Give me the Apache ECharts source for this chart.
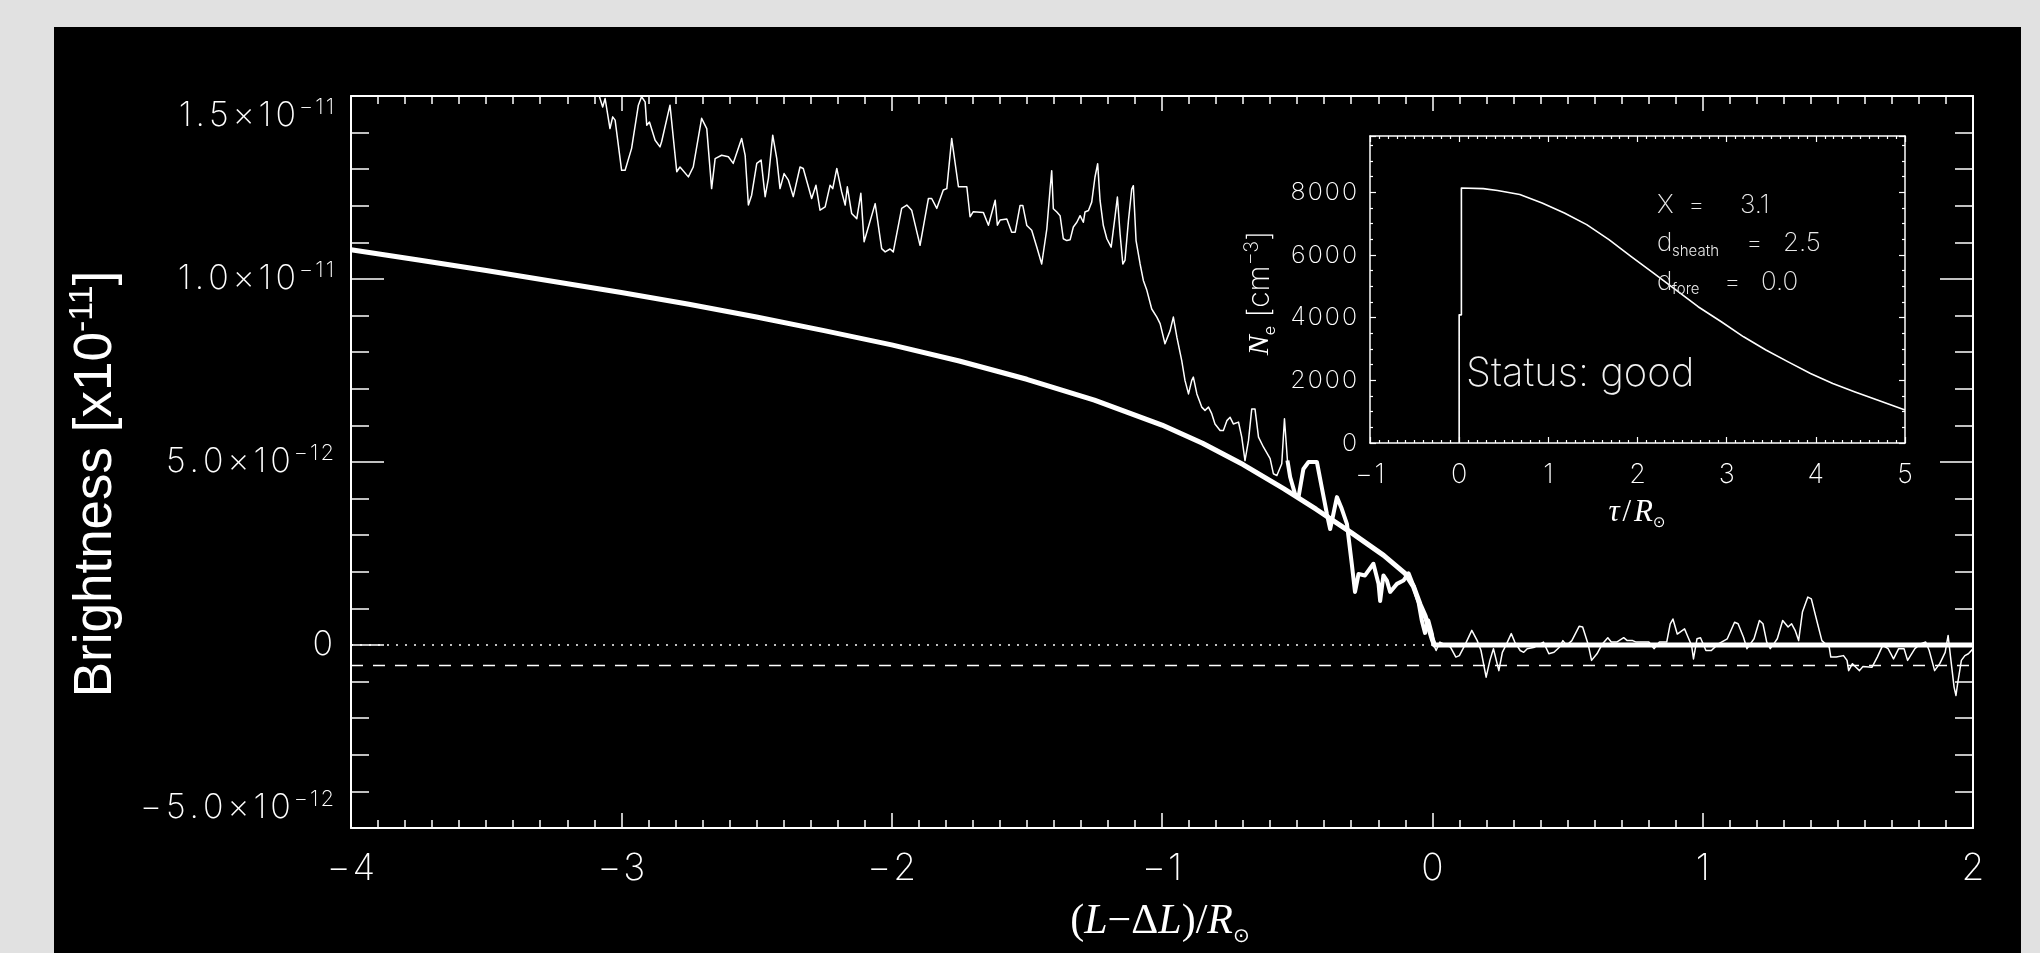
<!DOCTYPE html>
<html>
<head>
<meta charset="utf-8">
<title>Brightness profile and sheath density</title>
<script src="https://cdn.jsdelivr.net/npm/echarts@6/dist/echarts.min.js"></script>
<style>
  html, body { margin: 0; padding: 0; width: 2040px; height: 953px; background: #e1e1e1; overflow: hidden; }
  #panel { position: absolute; left: 54px; top: 27px; width: 1967px; height: 926px; background: #000; }
  #chart { position: absolute; left: 0; top: 0; width: 2040px; height: 953px; }
</style>
</head>
<body>
<div id="panel"></div>
<div id="chart"></div>
<script>
// ---------------------------------------------------------------------------
// Brightness values are stored in units of 1e-12; the axis labels restore the
// physical scale.
// ---------------------------------------------------------------------------

// Observed brightness, outer part (x = (L-ΔL)/R_sun, y in 1e-12)
const observedOuter = [
  [-4.00, 19.0], [-3.70, 18.1], [-3.45, 17.0], [-3.25, 16.3], [-3.12, 15.9],
  [-3.069, 14.70], [-3.060, 14.93], [-3.042, 14.11], [-3.032, 14.43], [-3.023, 14.34],
  [-2.999, 12.97], [-2.986, 12.97], [-2.962, 13.57], [-2.937, 14.75], [-2.925, 14.98],
  [-2.912, 14.84], [-2.906, 14.20], [-2.896, 14.29], [-2.875, 13.79], [-2.857, 13.61],
  [-2.851, 13.75], [-2.820, 14.75], [-2.795, 12.93], [-2.783, 13.06], [-2.752, 12.79],
  [-2.734, 13.06], [-2.703, 14.39], [-2.684, 14.11], [-2.666, 12.47], [-2.653, 13.29],
  [-2.629, 13.38], [-2.604, 13.34], [-2.586, 13.16], [-2.555, 13.84], [-2.542, 13.38],
  [-2.530, 12.02], [-2.518, 12.29], [-2.499, 13.16], [-2.483, 13.25], [-2.468, 12.25],
  [-2.456, 12.75], [-2.440, 13.93], [-2.425, 13.29], [-2.413, 12.47], [-2.398, 12.88],
  [-2.382, 12.70], [-2.364, 12.25], [-2.339, 13.06], [-2.327, 13.02], [-2.296, 12.20],
  [-2.280, 12.56], [-2.265, 11.88], [-2.246, 11.97], [-2.228, 12.56], [-2.218, 12.47],
  [-2.203, 13.02], [-2.185, 12.38], [-2.172, 12.02], [-2.164, 12.52], [-2.148, 11.79],
  [-2.129, 11.65], [-2.114, 12.34], [-2.102, 11.02], [-2.061, 12.06], [-2.037, 10.83],
  [-2.024, 10.74], [-2.006, 10.82], [-1.994, 10.74], [-1.963, 11.93], [-1.944, 12.02],
  [-1.926, 11.88], [-1.895, 10.92], [-1.864, 12.20], [-1.852, 12.20], [-1.833, 11.93],
  [-1.809, 12.43], [-1.796, 12.47], [-1.778, 13.84], [-1.753, 12.52], [-1.722, 12.52],
  [-1.710, 11.70], [-1.698, 11.84], [-1.661, 11.82], [-1.642, 11.47], [-1.617, 12.15],
  [-1.609, 11.47], [-1.599, 11.61], [-1.574, 11.64], [-1.556, 11.28], [-1.543, 11.28],
  [-1.525, 12.01], [-1.515, 12.01], [-1.500, 11.46], [-1.482, 11.33], [-1.463, 10.87],
  [-1.457, 10.92], [-1.445, 10.41], [-1.426, 11.37], [-1.414, 12.46], [-1.408, 12.96],
  [-1.402, 11.92], [-1.389, 11.83], [-1.377, 11.73], [-1.365, 11.10], [-1.352, 11.05],
  [-1.340, 11.07], [-1.328, 11.42], [-1.315, 11.55], [-1.303, 11.73], [-1.291, 11.55],
  [-1.285, 11.83], [-1.272, 11.87], [-1.260, 12.10], [-1.248, 12.78], [-1.238, 13.15],
  [-1.229, 12.14], [-1.217, 11.46], [-1.204, 11.10], [-1.188, 10.87], [-1.174, 11.69],
  [-1.165, 12.24], [-1.155, 11.23], [-1.145, 10.41], [-1.137, 10.51], [-1.124, 11.60],
  [-1.112, 12.46], [-1.106, 12.55], [-1.096, 11.05], [-1.081, 10.41], [-1.069, 9.96],
  [-1.056, 9.69], [-1.038, 9.18], [-1.019, 8.96], [-1.007, 8.78], [-0.989, 8.23],
  [-0.970, 8.59], [-0.958, 8.96], [-0.945, 8.41], [-0.927, 7.77], [-0.915, 7.23],
  [-0.902, 6.86], [-0.890, 7.23], [-0.884, 7.32], [-0.871, 6.86], [-0.853, 6.50],
  [-0.841, 6.41], [-0.828, 6.50], [-0.816, 6.32], [-0.804, 6.04], [-0.785, 5.86],
  [-0.773, 5.86], [-0.760, 6.13], [-0.748, 6.22], [-0.736, 6.04], [-0.717, 6.09],
  [-0.705, 5.68], [-0.693, 5.04], [-0.680, 5.59], [-0.668, 6.45], [-0.656, 6.45],
  [-0.643, 5.68], [-0.625, 5.41], [-0.600, 5.09], [-0.588, 4.68], [-0.575, 4.63],
  [-0.557, 4.95], [-0.547, 6.18]
];

// Observed brightness inside the fitted range (also drawn heavy)
const observedFit = [
  [-0.536, 5.04], [-0.526, 4.59], [-0.508, 4.13], [-0.495, 4.04], [-0.477, 4.81],
  [-0.458, 5.00], [-0.427, 5.00], [-0.409, 4.31], [-0.390, 3.58], [-0.378, 3.17],
  [-0.366, 3.58], [-0.353, 4.04], [-0.335, 3.72], [-0.316, 3.31], [-0.298, 2.22],
  [-0.286, 1.45], [-0.273, 1.94], [-0.249, 1.90], [-0.218, 2.22], [-0.199, 1.67],
  [-0.193, 1.20], [-0.181, 1.90], [-0.168, 1.76], [-0.156, 1.45], [-0.131, 1.67],
  [-0.107, 1.76], [-0.088, 1.96], [-0.070, 1.62], [-0.051, 1.17], [-0.039, 0.67],
  [-0.027, 0.33], [-0.015, 0.67], [-0.002, 0.31], [0.004, 0.02]
];

// Observed brightness beyond the front
const observedTail = [
  [0.014, -0.15], [0.028, 0.08], [0.067, -0.06], [0.087, -0.33], [0.100, -0.29],
  [0.120, -0.01], [0.146, 0.40], [0.166, 0.12], [0.180, -0.15], [0.199, -0.88],
  [0.213, -0.42], [0.226, -0.10], [0.246, -0.70], [0.259, -0.20], [0.272, -0.01],
  [0.292, 0.31], [0.305, 0.08], [0.325, -0.15], [0.338, -0.20], [0.351, -0.10],
  [0.378, -0.06], [0.411, 0.08], [0.431, -0.24], [0.450, -0.20], [0.470, -0.06],
  [0.483, 0.12], [0.497, -0.01], [0.516, 0.12], [0.543, 0.51], [0.556, 0.49],
  [0.576, 0.03], [0.589, -0.42], [0.609, -0.24], [0.629, 0.03], [0.649, 0.20],
  [0.662, 0.08], [0.682, 0.08], [0.708, 0.20], [0.721, 0.12], [0.741, 0.12],
  [0.754, 0.08], [0.774, 0.08], [0.801, 0.08], [0.820, -0.10], [0.840, 0.08],
  [0.867, 0.08], [0.880, 0.58], [0.890, 0.71], [0.906, 0.30], [0.933, 0.44],
  [0.946, 0.21], [0.959, -0.01], [0.966, -0.38], [0.979, 0.17], [0.992, 0.20],
  [1.012, -0.15], [1.032, -0.15], [1.058, 0.03], [1.091, 0.17], [1.118, 0.62],
  [1.131, 0.58], [1.151, 0.21], [1.164, -0.10], [1.170, -0.15], [1.190, 0.17],
  [1.210, 0.67], [1.223, 0.58], [1.237, 0.08], [1.250, -0.10], [1.263, 0.03],
  [1.276, 0.17], [1.296, 0.67], [1.316, 0.49], [1.329, 0.58], [1.342, 0.40],
  [1.355, 0.12], [1.369, 0.90], [1.389, 1.31], [1.402, 1.26], [1.422, 0.67],
  [1.441, 0.12], [1.468, -0.06], [1.474, -0.33], [1.494, -0.33], [1.521, -0.29],
  [1.534, -0.42], [1.540, -0.70], [1.554, -0.51], [1.567, -0.61], [1.580, -0.70],
  [1.593, -0.59], [1.626, -0.61], [1.646, -0.33], [1.666, -0.01], [1.686, -0.10],
  [1.706, -0.38], [1.725, -0.10], [1.745, -0.10], [1.758, -0.42], [1.785, -0.10],
  [1.805, 0.03], [1.825, 0.08], [1.838, -0.15], [1.858, -0.70], [1.877, -0.51],
  [1.897, -0.20], [1.908, 0.26], [1.917, -0.33], [1.930, -1.15], [1.937, -1.38],
  [1.943, -1.06], [1.957, -0.42], [1.970, -0.29], [1.983, -0.24], [2.000, -0.10]
];

// Model brightness (1e-12)
const modelX = [-4.0, -3.75, -3.5, -3.25, -3.0, -2.75, -2.5, -2.25, -2.0, -1.75, -1.5, -1.25, -1.0, -0.85, -0.7, -0.55, -0.43, -0.30, -0.18, -0.10, -0.07, -0.045, -0.027, 0.0, 0.008, 2.0];
const modelY = [10.80, 10.52, 10.23, 9.93, 9.63, 9.31, 8.96, 8.59, 8.20, 7.76, 7.26, 6.69, 6.01, 5.51, 4.93, 4.27, 3.71, 3.07, 2.45, 1.95, 1.60, 1.10, 0.80, 0.15, 0.0, 0.0];

// Reference levels (1e-12)
const zeroLevel = 0;
const backgroundLevel = -0.56;

// Inset: electron density profile
const tau = [0, 0, 0.025, 0.025, 0.27, 0.43, 0.68, 0.93, 1.18, 1.43, 1.68, 1.93, 2.18, 2.43, 2.68, 2.94, 3.19, 3.44, 3.69, 3.94, 4.19, 4.44, 4.69, 5.0];
const density = [0, 4090, 4090, 8140, 8120, 8060, 7930, 7660, 7340, 6970, 6490, 5950, 5420, 4890, 4350, 3870, 3390, 2970, 2590, 2220, 1900, 1630, 1370, 1050];

// Axis settings
const mainX = { min: -4, max: 2, step: 1 };
const mainY = { min: -5, max: 15, step: 5 };   // 1e-12 units
const insetX = { min: -1, max: 5, step: 1 };
const insetY = { min: 0, max: 9800, step: 2000 };

// Fit annotation lines: name, subscript, value, and the widths of the
// name/subscript cell and the "=" cell
const fitParams = [
  { name: 'X', sub: '', value: '3.1', nameW: 31, eqW: 51 },
  { name: 'd', sub: 'sheath', value: '2.5', nameW: 89, eqW: 36 },
  { name: 'd', sub: 'fore', value: '0.0', nameW: 67, eqW: 36 }
];
const statusText = 'Status: good';

// ---------------------------------------------------------------------------
const THIN = "'Inter', 'DejaVu Sans', sans-serif";
const SERIF = "'Liberation Serif', 'DejaVu Serif', serif";
const WHITE = '#ffffff';
const MINUS = '\u2212';

function signed(v) {
  return (v < 0 ? MINUS : '') + Math.abs(v);
}

// Wrap every character in its own rich token so the glyphs get a little air
function spaced(str, style) {
  return Array.from(str).map(c => '{' + style + '|' + c + '}').join('');
}

// Value in 1e-12 units -> "m.m×10^e" rich label
function sciLabel(v) {
  if (Math.abs(v) < 1e-9) return spaced('0', 'm');
  const real = v * 1e-12;
  const e = Math.floor(Math.log10(Math.abs(real)) + 1e-9);
  const m = real / Math.pow(10, e);
  return spaced((m < 0 ? MINUS : '') + Math.abs(m).toFixed(1) + '\u00d710', 'm') +
         spaced(MINUS + Math.abs(e), 's');
}

const toPairs = (xs, ys) => xs.map((x, i) => [x, ys[i]]);
const observedAll = observedOuter.concat(observedFit, observedTail);

const chart = echarts.init(document.getElementById('chart'), null, { renderer: 'canvas' });

const axisLineStyle = { color: WHITE, width: 2 };
const tickStyle = { color: WHITE, width: 1.5 };

function mainXAxis(position, showLabel) {
  return {
    type: 'value', gridIndex: 0, position: position,
    min: mainX.min, max: mainX.max, interval: mainX.step,
    axisLine: { show: true, onZero: false, lineStyle: axisLineStyle },
    axisTick: { show: true, inside: true, length: 15, lineStyle: tickStyle },
    minorTick: { show: true, splitNumber: 10, length: 8, lineStyle: tickStyle },
    splitLine: { show: false }, minorSplitLine: { show: false },
    axisLabel: {
      show: showLabel, margin: 22,
      formatter: v => spaced(signed(v), 'd'),
      rich: { d: { color: WHITE, fontFamily: THIN, fontWeight: 200, fontSize: 37, padding: [0, 1] } }
    }
  };
}

function mainYAxis(position, showLabel) {
  return {
    type: 'value', gridIndex: 0, position: position,
    min: mainY.min, max: mainY.max, interval: mainY.step,
    axisLine: { show: true, onZero: false, lineStyle: axisLineStyle },
    axisTick: { show: true, inside: true, length: 33, lineStyle: tickStyle },
    minorTick: { show: true, splitNumber: 5, length: 18, lineStyle: tickStyle },
    splitLine: { show: false }, minorSplitLine: { show: false },
    axisLabel: {
      show: showLabel, margin: 16, formatter: sciLabel,
      verticalAlignMaxLabel: 'top', verticalAlignMinLabel: 'bottom',
      rich: {
        m: { color: WHITE, fontFamily: THIN, fontWeight: 200, fontSize: 34, lineHeight: 40, padding: [0, 2] },
        s: { color: WHITE, fontFamily: THIN, fontWeight: 200, fontSize: 22, lineHeight: 22, verticalAlign: 'top', padding: [0, 1] }
      }
    }
  };
}

function insetXAxis(position, showLabel) {
  return {
    type: 'value', gridIndex: 1, position: position,
    min: insetX.min, max: insetX.max, interval: insetX.step,
    axisLine: { show: true, onZero: false, lineStyle: { color: WHITE, width: 1.5 } },
    axisTick: { show: true, inside: true, length: 6, lineStyle: { color: WHITE, width: 1.2 } },
    minorTick: { show: true, splitNumber: 10, length: 3, lineStyle: { color: WHITE, width: 1.2 } },
    splitLine: { show: false },
    axisLabel: {
      show: showLabel, margin: 18,
      formatter: v => spaced(signed(v), 'd'),
      rich: { d: { color: WHITE, fontFamily: THIN, fontWeight: 200, fontSize: 27, padding: [0, 1] } }
    }
  };
}

function insetYAxis(position, showLabel) {
  return {
    type: 'value', gridIndex: 1, position: position,
    min: insetY.min, max: insetY.max, interval: insetY.step,
    axisLine: { show: true, onZero: false, lineStyle: { color: WHITE, width: 1.5 } },
    axisTick: { show: true, inside: true, length: 6, lineStyle: { color: WHITE, width: 1.2 } },
    minorTick: { show: true, splitNumber: 4, length: 3, lineStyle: { color: WHITE, width: 1.2 } },
    splitLine: { show: false },
    axisLabel: {
      show: showLabel, margin: 12, showMaxLabel: false,
      formatter: v => spaced(String(v), 'd'),
      rich: { d: { color: WHITE, fontFamily: THIN, fontWeight: 200, fontSize: 25, padding: [0, 1] } }
    }
  };
}

function lineSeries(data, xi, yi, width, type, z) {
  return {
    type: 'line', xAxisIndex: xi, yAxisIndex: yi, data: data,
    showSymbol: false, symbol: 'none', clip: true, silent: true, z: z,
    lineStyle: { color: WHITE, width: width, type: type || 'solid', cap: 'butt', join: 'round' }
  };
}

const paramGraphics = fitParams.map((p, i) => ({
  type: 'text', x: 1657, y: 205 + i * 38.5, z: 10,
  style: {
    text: '{n' + i + '|' + p.name + '}' + (p.sub ? '{sub|' + p.sub + '}' : '') +
          '{eq' + i + '|=}{p|' + p.value + '}',
    textAlign: 'left', textVerticalAlign: 'middle', align: 'left', verticalAlign: 'middle',
    rich: {
      ['n' + i]: { fill: '#e8e8e8', fontFamily: THIN, fontWeight: 200, fontSize: 26, lineHeight: 30,
                   width: p.sub ? 15 : p.nameW },
      sub: { fill: '#e8e8e8', fontFamily: THIN, fontWeight: 300, fontSize: 15, lineHeight: 14,
             verticalAlign: 'bottom', width: p.nameW - 15 },
      ['eq' + i]: { fill: '#e8e8e8', fontFamily: THIN, fontWeight: 200, fontSize: 26, lineHeight: 30, width: p.eqW },
      p: { fill: '#e8e8e8', fontFamily: THIN, fontWeight: 200, fontSize: 26, lineHeight: 30, padding: [0, 1] }
    }
  }
}));

const option = {
  backgroundColor: 'transparent',
  animation: false,
  grid: [
    { left: 351, top: 96, width: 1622, height: 732, show: false },
    { left: 1370, top: 136, width: 535, height: 307, show: false }
  ],
  xAxis: [
    mainXAxis('bottom', true), mainXAxis('top', false),
    insetXAxis('bottom', true), insetXAxis('top', false)
  ],
  yAxis: [
    mainYAxis('left', true), mainYAxis('right', false),
    insetYAxis('left', true), insetYAxis('right', false)
  ],
  series: [
    lineSeries([[mainX.min, zeroLevel], [mainX.max, zeroLevel]], 0, 0, 1.6, [2, 7], 2),
    lineSeries([[mainX.min, backgroundLevel], [mainX.max, backgroundLevel]], 0, 0, 1.6, [12, 10], 2),
    lineSeries(observedAll, 0, 0, 1.5, 'solid', 3),
    lineSeries(observedFit, 0, 0, 4, 'solid', 4),
    lineSeries(toPairs(modelX, modelY), 0, 0, 5, 'solid', 5),
    lineSeries(toPairs(tau, density), 2, 2, 1.6, 'solid', 3)
  ],
  graphic: [
    {
      type: 'text', x: 96, y: 484, rotation: Math.PI / 2, z: 10,
      style: {
        text: '{a|Brightness [x10}{b|-11}{a|]}',
        textAlign: 'center', textVerticalAlign: 'middle', align: 'center', verticalAlign: 'middle',
        rich: {
          a: { fill: WHITE, fontFamily: "'Liberation Sans', Arial, sans-serif", fontSize: 53, lineHeight: 60 },
          b: { fill: WHITE, fontFamily: "'Liberation Sans', Arial, sans-serif", fontSize: 34, lineHeight: 40, verticalAlign: 'top' }
        }
      }
    },
    {
      type: 'text', x: 1160, y: 922, z: 10,
      style: {
        text: '{p|(}{i|L}{p|' + MINUS + '\u0394}{i|L}{p|)/}{i|R}{sub|\u2299}',
        textAlign: 'center', textVerticalAlign: 'middle', align: 'center', verticalAlign: 'middle',
        rich: {
          p: { fill: WHITE, fontFamily: SERIF, fontSize: 42, lineHeight: 50 },
          i: { fill: WHITE, fontFamily: SERIF, fontStyle: 'italic', fontSize: 42, lineHeight: 50 },
          sub: { fill: WHITE, fontFamily: "'DejaVu Sans', sans-serif", fontSize: 20, lineHeight: 34, verticalAlign: 'bottom' }
        }
      }
    },
    {
      type: 'text', x: 1637, y: 513, z: 10,
      style: {
        text: '{i|\u03c4}{p|/}{i|R}{sub|\u2299}',
        textAlign: 'center', textVerticalAlign: 'middle', align: 'center', verticalAlign: 'middle',
        rich: {
          p: { fill: WHITE, fontFamily: SERIF, fontSize: 31, lineHeight: 36, padding: [0, 3] },
          i: { fill: WHITE, fontFamily: SERIF, fontStyle: 'italic', fontSize: 31, lineHeight: 36 },
          sub: { fill: WHITE, fontFamily: "'DejaVu Sans', sans-serif", fontSize: 15, lineHeight: 24, verticalAlign: 'bottom' }
        }
      }
    },
    {
      type: 'text', x: 1260, y: 293, rotation: Math.PI / 2, z: 10,
      style: {
        text: '{i|N}{sub|e}{p| [cm}{sup|' + MINUS + '3}{p|]}',
        textAlign: 'center', textVerticalAlign: 'middle', align: 'center', verticalAlign: 'middle',
        rich: {
          p: { fill: WHITE, fontFamily: THIN, fontWeight: 200, fontSize: 30, lineHeight: 36 },
          i: { fill: WHITE, fontFamily: SERIF, fontStyle: 'italic', fontSize: 30, lineHeight: 36 },
          sub: { fill: WHITE, fontFamily: THIN, fontWeight: 300, fontSize: 16, lineHeight: 24, verticalAlign: 'bottom' },
          sup: { fill: WHITE, fontFamily: THIN, fontWeight: 200, fontSize: 20, lineHeight: 22, verticalAlign: 'top' }
        }
      }
    },
    {
      type: 'text', x: 1466, y: 374, z: 10,
      style: {
        text: statusText, fill: '#f0f0f0', fontFamily: THIN, fontWeight: 200, fontSize: 40,
        textAlign: 'left', textVerticalAlign: 'middle', align: 'left', verticalAlign: 'middle'
      }
    }
  ].concat(paramGraphics)
};

chart.setOption(option);
</script>
</body>
</html>
